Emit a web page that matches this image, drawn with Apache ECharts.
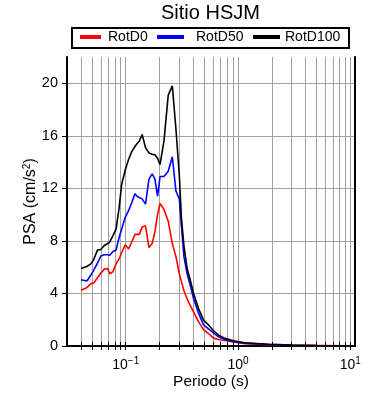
<!DOCTYPE html>
<html>
<head>
<meta charset="utf-8">
<script src="https://cdn.jsdelivr.net/npm/echarts@6/dist/echarts.min.js"></script>
<style>html,body{margin:0;padding:0;background:#fff;}#c{width:390px;height:400px;}</style>
</head>
<body>
<div id="c"></div>
<script>
const periods = [0.04,0.045,0.049,0.052,0.056,0.06,0.0645,0.069,0.072,0.077,0.082,0.087,0.092,0.099,0.106,0.113,0.121,0.126,0.132,0.14,0.15,0.161,0.172,0.182,0.192,0.202,0.219,0.239,0.26,0.28,0.30,0.313,0.33,0.352,0.376,0.402,0.445,0.493,0.546,0.605,0.67,0.767,0.908,1.15,2.0,3.0,5.0,10.0];
const rotD0   = [4.24,4.44,4.75,4.8,5.2,5.55,5.85,5.9,5.5,5.65,6.26,6.6,7.1,7.7,7.4,7.9,8.5,8.45,8.5,9.05,9.15,7.5,7.8,8.7,10.0,10.85,10.4,9.5,7.8,6.8,5.5,4.9,4.2,3.6,3.05,2.6,1.84,1.25,0.95,0.6,0.5,0.42,0.3,0.18,0.08,0.05,0.04,0.02];
const rotD50  = [5.05,4.95,5.4,5.8,6.3,6.85,6.95,6.95,6.9,7.2,7.3,8.2,8.9,9.8,10.3,10.9,11.6,11.4,11.3,11.2,10.8,12.7,13.1,12.7,11.4,12.9,12.9,13.3,14.4,11.8,11.2,9.2,6.8,5.5,4.6,3.6,2.5,1.6,1.3,1.0,0.7,0.5,0.33,0.22,0.1,0.06,0.035,0.02];
const rotD100 = [5.9,6.05,6.25,6.6,7.3,7.35,7.65,7.8,7.9,8.4,8.9,10.4,12.3,13.4,14.2,14.8,15.2,15.4,15.6,16.1,15.1,14.7,14.6,14.55,14.3,13.8,15.6,19.1,19.8,16.5,13.0,9.8,7.6,5.9,5.0,4.0,2.85,1.97,1.6,1.16,0.83,0.58,0.4,0.25,0.12,0.07,0.04,0.02];
const xMinorTicks = [0.04,0.05,0.06,0.07,0.08,0.09,0.1,0.2,0.3,0.4,0.5,0.6,0.7,0.8,0.9,1,2,3,4,5,6,7,8,9,10];
const xLabels = [0.1,1,10];
const yTicks = [0,4,8,12,16,20];

const FONT = "'Liberation Sans', Arial, Helvetica, sans-serif";
const pairs = v => periods.map((p,i)=>[p, v[i]]);
const chart = echarts.init(document.getElementById('c'), null, {renderer:'canvas'});
const mkLegend = (name, left, pad) => ({
  data:[name], left:left, top:30, padding:0, itemHeight:4, itemWidth: name==='RotD0'?21:27,
  icon:'rect', textStyle:{fontFamily:FONT, fontSize:14, color:'#000', padding:[0,0,0,pad]}
});
chart.setOption({
  animation:false,
  title:{text:'Sitio HSJM', left:161, top:3, padding:0, textStyle:{fontFamily:FONT, fontSize:20, fontWeight:'normal', color:'#000'}},
  legend:[mkLegend('RotD0',80,2), mkLegend('RotD50',157,7), mkLegend('RotD100',253,0)],
  graphic:[{type:'rect', shape:{x:72, y:28, width:277, height:20}, style:{fill:null, stroke:'#000', lineWidth:2}, silent:true}],
  grid:{left:67, right:35, top:57, bottom:54},
  xAxis:[{
    type:'log', min:0.03, max:11, position:'bottom',
    name:'Periodo (s)', nameLocation:'middle', nameGap:28, nameMoveOverlap:false,
    nameTextStyle:{fontFamily:FONT, fontSize:15.5, color:'#000'},
    axisLine:{show:true, lineStyle:{color:'#000', width:2}},
    axisTick:{show:true, inside:false, length:4, customValues:xMinorTicks, lineStyle:{color:'#000', width:1}},
    splitLine:{show:true, lineStyle:{color:'#a0a0a0', width:1}},
    minorTick:{show:false}, minorSplitLine:{show:false},
    axisLabel:{customValues:xLabels, margin:10, fontFamily:FONT, color:'#000',
      formatter:v=>{const e=Math.round(Math.log10(v)); return '{b|10}{s|'+(e<0?'\u2212'+(-e):e)+'}';},
      rich:{b:{fontFamily:FONT, fontSize:14, color:'#000'}, s:{fontFamily:FONT, fontSize:10, color:'#000', padding:[0,0,8,0]}}}
  },{
    type:'log', min:0.03, max:11, position:'top',
    axisLine:{show:true, lineStyle:{color:'#000', width:2}},
    axisTick:{show:true, inside:false, length:4, customValues:xMinorTicks, lineStyle:{color:'#000', width:1}},
    splitLine:{show:false}, axisLabel:{show:false}
  }],
  yAxis:[{
    type:'value', min:0, max:22, interval:4, position:'left',
    name:'PSA (cm/s{s|2})', nameLocation:'middle', nameGap:27, nameRotate:90, nameMoveOverlap:false,
    nameTextStyle:{fontFamily:FONT, fontSize:16, color:'#000',
      rich:{s:{fontFamily:FONT, fontSize:10, color:'#000', padding:[0,0,8,0]}}},
    axisLine:{show:true, lineStyle:{color:'#000', width:2}},
    axisTick:{show:true, inside:false, length:5, customValues:yTicks, lineStyle:{color:'#000'}},
    splitLine:{show:true, lineStyle:{color:'#a0a0a0', width:1}},
    axisLabel:{customValues:yTicks, margin:9, fontFamily:FONT, fontSize:14.5, color:'#000'}
  },{
    type:'value', min:0, max:22, interval:4, position:'right',
    axisLine:{show:true, lineStyle:{color:'#000', width:2}},
    axisTick:{show:false}, splitLine:{show:false}, axisLabel:{show:false}
  }],
  series:[
    {name:'RotD0', type:'line', data:pairs(rotD0), showSymbol:false, color:'#ff0000', lineStyle:{width:1.6, color:'#ff0000'}, z:3},
    {name:'RotD50', type:'line', data:pairs(rotD50), showSymbol:false, color:'#0000ff', lineStyle:{width:1.6, color:'#0000ff'}, z:4},
    {name:'RotD100', type:'line', data:pairs(rotD100), showSymbol:false, color:'#000000', lineStyle:{width:1.6, color:'#000000'}, z:5}
  ]
});
</script>
</body>
</html>
